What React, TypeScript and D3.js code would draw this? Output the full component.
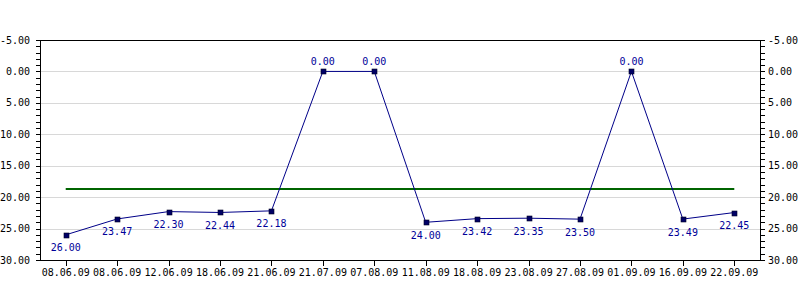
import React from "react";
import * as d3 from "d3";

const categories = ["08.06.09","08.06.09","12.06.09","18.06.09","21.06.09","21.07.09","07.08.09","11.08.09","18.08.09","23.08.09","27.08.09","01.09.09","16.09.09","22.09.09"];
const values = [26.0, 23.47, 22.3, 22.44, 22.18, 0.0, 0.0, 24.0, 23.42, 23.35, 23.5, 0.0, 23.49, 22.45];
const referenceValue = [18.7];
const yTicks = [-5, 0, 5, 10, 15, 20, 25, 30];

const W = 800, H = 300;
const L = 40, R = 760, T = 40, B = 260;
const FONT = "'DejaVu Sans Mono', monospace";

export default function App() {
  const x = d3.scalePoint<number>().domain(d3.range(categories.length)).range([L, R]).padding(0.5);
  const y = d3.scaleLinear().domain([-5, 30]).range([T, B]);
  const minor = d3.range(-5, 31, 1);
  const line = d3.line<number>().x((_, i) => x(i)!).y(d => y(d));
  const crisp = (v: number) => Math.round(v) + 0.5;

  return (
    <svg width={W} height={H} style={{ position: "absolute", left: 0, top: 0, background: "#fff" }}>
      <rect x={0} y={0} width={W} height={H} fill="#fff" />
      {yTicks.filter(t => t !== -5 && t !== 30).map(t => (
        <line key={"g" + t} x1={L} x2={R} y1={crisp(y(t))} y2={crisp(y(t))} stroke="#d8d8d8" />
      ))}
      {/* frame */}
      <line x1={L} x2={R} y1={crisp(T)} y2={crisp(T)} stroke="#000" />
      <line x1={L} x2={R} y1={crisp(B)} y2={crisp(B)} stroke="#000" />
      <line x1={crisp(L)} x2={crisp(L)} y1={T} y2={B + 1} stroke="#000" />
      <line x1={crisp(R)} x2={crisp(R)} y1={T} y2={B + 1} stroke="#000" />
      {minor.map(t => (
        <g key={"m" + t}>
          <line x1={L - 4} x2={L} y1={crisp(y(t))} y2={crisp(y(t))} stroke="#000" />
          <line x1={R} x2={R + 5} y1={crisp(y(t))} y2={crisp(y(t))} stroke="#000" />
        </g>
      ))}
      {yTicks.map(t => (
        <g key={"t" + t} fontFamily={FONT} fontSize={10} fill="#000">
          <text x={30} y={y(t)} dy="0.35em" textAnchor="end">{t.toFixed(2)}</text>
          <text x={768} y={y(t)} dy="0.35em" textAnchor="start">{t.toFixed(2)}</text>
        </g>
      ))}
      {categories.map((c, i) => (
        <g key={"x" + i}>
          <line x1={crisp(x(i)!)} x2={crisp(x(i)!)} y1={B} y2={B + 6} stroke="#000" />
          <text x={x(i)!} y={276} textAnchor="middle" fontFamily={FONT} fontSize={10} fill="#000">{c}</text>
        </g>
      ))}
      <line x1={x(0)!} x2={x(categories.length - 1)!} y1={y(referenceValue[0])} y2={y(referenceValue[0])} stroke="#006400" strokeWidth={2} />
      <path d={line(values)!} fill="none" stroke="#000088" strokeWidth={1} />
      {values.map((v, i) => (
        <rect key={"p" + i} x={Math.round(x(i)!) - 2} y={Math.round(y(v)) - 2} width={5} height={5} fill="#000066" stroke="#000022" strokeWidth={0.6} />
      ))}
      {values.map((v, i) => (
        <text key={"l" + i} x={x(i)!} y={v < 5 ? y(v) - 10 : y(v) + 13} dy="0.35em" textAnchor="middle" fontFamily={FONT} fontSize={10} fill="#000099">{v.toFixed(2)}</text>
      ))}
    </svg>
  );
}
